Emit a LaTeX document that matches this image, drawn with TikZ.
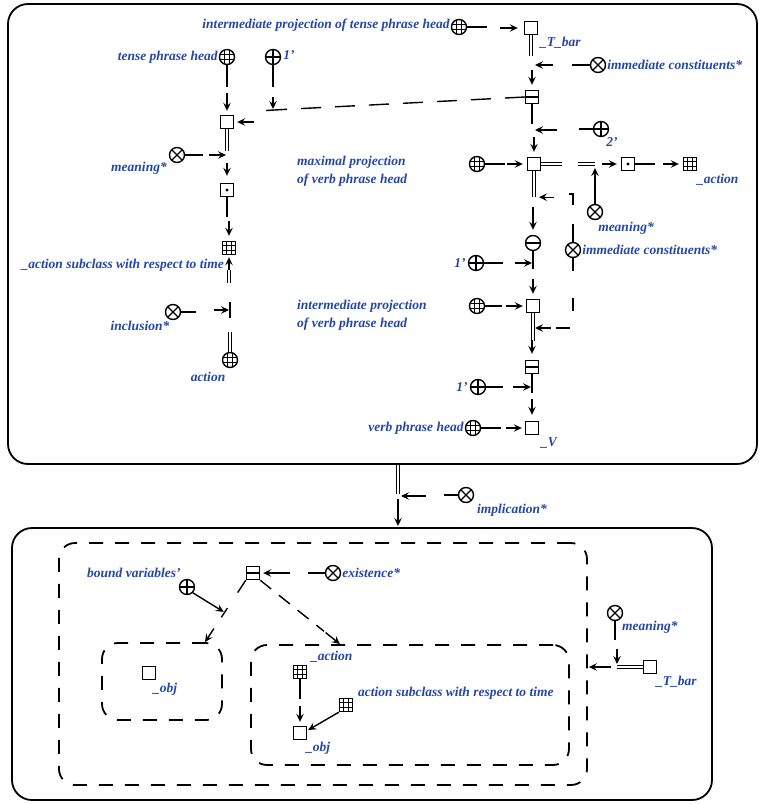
\documentclass[tikz,border=0pt]{standalone}
\usepackage{fontspec}
\setmainfont{Liberation Serif}
\usetikzlibrary{arrows.meta,calc}
\definecolor{lbl}{RGB}{35,70,170}
\tikzset{
  lab/.style={text=lbl, inner sep=0pt, font=\fontsize{13.5}{17.5}\selectfont\bfseries\itshape},
  ln/.style={line width=1.4pt},
  dbl/.style={double, double distance=2pt, line width=0.7pt},
  arw/.style={line width=1.4pt, -{Stealth[length=8pt,width=7.5pt,inset=3pt]}},
  frame/.style={line width=1.8pt, rounded corners=20pt},
  dbox/.style={draw, line width=1.8pt, dash pattern=on 14pt off 12pt, rounded corners=16pt, inner sep=0pt},
  sq/.style={draw, line width=1.4pt, minimum size=13pt, inner sep=0pt},
  cc/.style={circle, draw, line width=1.4pt, minimum size=15pt, inner sep=0pt},
  gcirc/.style={cc, path picture={
    \draw[line width=0.9pt]
      ([xshift=-2.4pt]path picture bounding box.north) -- ([xshift=-2.4pt]path picture bounding box.south)
      ([xshift=2.4pt]path picture bounding box.north) -- ([xshift=2.4pt]path picture bounding box.south)
      ([yshift=-2.4pt]path picture bounding box.west) -- ([yshift=-2.4pt]path picture bounding box.east)
      ([yshift=2.4pt]path picture bounding box.west) -- ([yshift=2.4pt]path picture bounding box.east);}},
  pcirc/.style={cc, path picture={
    \draw[line width=1.2pt]
      (path picture bounding box.north) -- (path picture bounding box.south)
      (path picture bounding box.west) -- (path picture bounding box.east);}},
  xcirc/.style={cc, path picture={
    \draw[line width=1.2pt]
      (path picture bounding box.north west) -- (path picture bounding box.south east)
      (path picture bounding box.north east) -- (path picture bounding box.south west);}},
  mcirc/.style={cc, path picture={
    \draw[line width=1.2pt]
      (path picture bounding box.west) -- (path picture bounding box.east);}},
  gsq/.style={sq, path picture={
    \draw[line width=0.8pt]
      ([xshift=-2.2pt]path picture bounding box.north) -- ([xshift=-2.2pt]path picture bounding box.south)
      ([xshift=2.2pt]path picture bounding box.north) -- ([xshift=2.2pt]path picture bounding box.south)
      ([yshift=-2.2pt]path picture bounding box.west) -- ([yshift=-2.2pt]path picture bounding box.east)
      ([yshift=2.2pt]path picture bounding box.west) -- ([yshift=2.2pt]path picture bounding box.east);}},
  ssq/.style={sq, path picture={
    \draw[line width=1.2pt]
      (path picture bounding box.west) -- (path picture bounding box.east);}},
  dsq/.style={sq, path picture={
    \fill (path picture bounding box.center) circle (1.6pt);}},
}
\begin{document}
\begin{tikzpicture}[x=1pt,y=-1pt]
\useasboundingbox (0,0) rectangle (764,804);

% ---------- outer frames ----------
\draw[frame] (8,4) rectangle (757,464);
\draw[frame] (12,528) rectangle (712,800);

% ---------- tense phrase part (left column) ----------
\node[gcirc] (tph) at (227,57) {};
\node[pcirc] (p1) at (273,57) {};
\node[sq] (sqT) at (227,122) {};
\node[xcirc] (mn1) at (177,155) {};
\node[dsq] (dsq1) at (227,190) {};
\node[gsq] (gsq1) at (229,248) {};
\node[xcirc] (inc) at (173,312) {};
\node[gcirc] (actc) at (230,360) {};
\coordinate (jd1) at (273,110);
\coordinate (jmn1) at (227,155);
\coordinate (jinc) at (230,310);

\node[lab, anchor=east] (l-tph) at ([xshift=-1pt]tph.west) {tense phrase head};
\node[lab, anchor=west] (l-p1) at ([xshift=2pt,yshift=2pt]p1.east) {1'};
\node[lab] (l-mn1) at (139,168) {meaning*};
\node[lab, anchor=east] (l-gsq1) at (224,265) {\_action subclass with respect to time};
\node[lab] (l-inc) at (140,326) {inclusion*};
\node[lab] (l-actc) at (208,377) {action};

\draw[ln] (tph.south) -- ++(0,22);
\draw[arw] ($(sqT.north)+(0,-22)$) -- ($(sqT.north)+(0,-4)$);
\draw[ln] (p1.south) -- ++(0,22);
\draw[arw] ($(p1.south)+(0,32)$) -- ($(jd1)+(0,-1)$);
\draw[dbl] (sqT.south) -- ++(0,22);
\draw[ln] (mn1.east) -- ++(18,0);
\draw[arw] ($(jmn1)+(-18,0)$) -- ($(jmn1)+(-1,0)$);
\draw[arw] ($(dsq1.north)+(0,-20)$) -- ($(dsq1.north)+(0,-7)$);
\draw[ln] (dsq1.south) -- ++(0,20);
\draw[arw] ($(gsq1.north)+(0,-20)$) -- ($(gsq1.north)+(0,-5)$);
\draw[dbl] ($(gsq1.south)+(0,15)$) -- ($(gsq1.south)+(0,28)$);
\draw[arw] ($(gsq1.south)+(0,15)$) -- ($(gsq1.south)+(0,2)$);
\draw[ln] ($(jinc)+(0,-8)$) -- ($(jinc)+(0,8)$);
\draw[ln] (inc.east) -- ++(15,0);
\draw[arw] ($(jinc)+(-16,0)$) -- ($(jinc)+(-1,0)$);
\draw[dbl] (actc.north) -- ++(0,-20);

% ---------- verb phrase part (right column) ----------
\node[gcirc] (itph) at (459,27) {};
\node[sq] (sqTb) at (531,28) {};
\node[xcirc] (ic1) at (598,65) {};
\coordinate (jic1) at (533,65);
\node[ssq] (sp1) at (532,97) {};
\node[pcirc] (p2) at (601,129) {};
\coordinate (jp2) at (533,130);
\node[gcirc] (vpc) at (477,164) {};
\node[sq] (sqM) at (534,164) {};
\node[dsq] (dsq2) at (628,164) {};
\node[gsq] (gsq2) at (690,164) {};
\node[xcirc] (mn2) at (595,212) {};
\coordinate (jmn2) at (595,164);
\node[xcirc] (ic2) at (573,250) {};
\node[mcirc] (mc) at (533,243) {};
\node[pcirc] (p3) at (476,263) {};
\coordinate (jp3) at (533,263);
\node[sq] (sqI) at (533,306) {};
\node[gcirc] (vpc2) at (477,306) {};
\coordinate (jic2) at (533,328);
\node[ssq] (sp2) at (532,367) {};
\node[pcirc] (p4) at (478,387) {};
\coordinate (jp4) at (532,387);
\node[sq] (sqV) at (532,428) {};
\node[gcirc] (vhc) at (473,428) {};

\node[lab, anchor=east] (l-itph) at ([xshift=-1pt,yshift=2pt]itph.west) {intermediate projection of tense phrase head};
\node[lab, anchor=west] (l-sqTb) at (540,43) {\_T\_bar};
\node[lab, anchor=west] (l-ic1) at ([xshift=1pt]ic1.east) {immediate constituents*};
\node[lab] (l-p2) at (612,142) {2'};
\node[lab, anchor=west, align=left] (l-max) at (297,171) {maximal projection\\of verb phrase head};
\node[lab, anchor=west] (l-gsq2) at (697,180) {\_action};
\node[lab] (l-mn2) at (626,228) {meaning*};
\node[lab, anchor=west] (l-ic2) at ([xshift=1pt]ic2.east) {immediate constituents*};
\node[lab, anchor=east] (l-p3) at ([xshift=-2pt]p3.west) {1'};
\node[lab, anchor=west, align=left] (l-int) at (297,315) {intermediate projection\\of verb phrase head};
\node[lab, anchor=east] (l-p4) at ([xshift=-2pt]p4.west) {1'};
\node[lab, anchor=east] (l-vhc) at ([xshift=-1pt]vhc.west) {verb phrase head};
\node[lab] (l-sqV) at (549,443) {\_V};

\draw[ln] (itph.east) -- ++(20,0);
\draw[arw] ($(sqTb.west)+(-24,0)$) -- ($(sqTb.west)+(-6,0)$);
\draw[dbl] (sqTb.south) -- ++(0,21);
\draw[ln] (ic1.west) -- ++(-18,0);
\draw[arw] ($(jic1)+(20,0)$) -- ($(jic1)+(2,0)$);
\draw[arw] ($(sp1.north)+(0,-20)$) -- ($(sp1.north)+(0,-5)$);
% dashed link from the split box to the tense phrase square
\draw[ln, dash pattern=on 20pt off 14pt] (sp1.west) -- ($(jd1)+(10,-0.5)$);
\draw[ln] ($(jd1)+(10,-0.5)$) -- ($(jd1)+(-7,0.5)$);
\draw[arw] ($(sqT.east)+(20,0)$) -- ($(sqT.east)+(3,0)$);
\draw[ln] (sp1.south) -- ++(0,20);
\draw[ln] (p2.west) -- ++(-14,0);
\draw[arw] ($(jp2)+(24,0)$) -- ($(jp2)+(2,0)$);
\draw[arw] ($(sqM.north)+(0,-20)$) -- ($(sqM.north)+(0,-5)$);
\draw[ln] (vpc.east) -- ++(20,0);
\draw[arw] ($(sqM.west)+(-20,0)$) -- ($(sqM.west)+(-4,0)$);
\draw[dbl] (sqM.east) -- ++(21,0);
\draw[dbl] ($(jmn2)+(-17,0)$) -- (jmn2);
\draw[arw] ($(dsq2.west)+(-19,0)$) -- ($(dsq2.west)+(-4,0)$);
\draw[ln] (mn2.north) -- ++(0,-16);
\draw[arw] ($(jmn2)+(0,24)$) -- ($(jmn2)+(0,4)$);
\draw[ln] (dsq2.east) -- ++(20,0);
\draw[arw] ($(gsq2.west)+(-20,0)$) -- ($(gsq2.west)+(-4,0)$);
\draw[dbl] (sqM.south) -- ++(0,26);
\draw[ln] (ic2.north) -- ++(0,-18);
\draw[ln] ($(ic2.north)+(0,-37)$) -- ($(ic2.north)+(0,-48)$) -- ++(-4,0);
\draw[arw] ($(sqM.south)+(20,26)$) -- ($(sqM.south)+(5,26)$);
\draw[arw] ($(mc.north)+(0,-28)$) -- ($(mc.north)+(0,-5)$);
\draw[ln] (mc.south) -- ($(jp3)+(0,6)$);
\draw[ln] (p3.east) -- ++(19,0);
\draw[arw] ($(jp3)+(-18,0)$) -- ($(jp3)+(-1,0)$);
\draw[arw] ($(sqI.north)+(0,-20)$) -- ($(sqI.north)+(0,-5)$);
\draw[ln] (vpc2.east) -- ++(17,0);
\draw[arw] ($(sqI.west)+(-20,0)$) -- ($(sqI.west)+(-3,0)$);
\draw[dbl] (sqI.south) -- ++(0,28);
\draw[ln] (ic2.south) -- ++(0,13);
\draw[ln] ($(ic2.south)+(0,40)$) -- ++(0,13);
\draw[ln] ($(jic2)+(37,0)$) -- ($(jic2)+(23,0)$);
\draw[arw] ($(jic2)+(18,0)$) -- ($(jic2)+(2,0)$);
\draw[arw] ($(sp2.north)+(0,-20)$) -- ($(sp2.north)+(0,-6)$);
\draw[ln] (sp2.south) -- ($(jp4)+(0,6)$);
\draw[ln] (p4.east) -- ++(17,0);
\draw[arw] ($(jp4)+(-19,0)$) -- ($(jp4)+(-1,0)$);
\draw[arw] ($(sqV.north)+(0,-22)$) -- ($(sqV.north)+(0,-6)$);
\draw[ln] (vhc.east) -- ++(20,0);
\draw[arw] ($(sqV.west)+(-19,0)$) -- ($(sqV.west)+(-3,0)$);

% ---------- implication between the two frames ----------
\coordinate (ta) at (398,465);
\coordinate (jimp) at (398,496);
\coordinate (tb) at (398,527);
\node[xcirc] (imp) at (466,495) {};
\node[lab, anchor=west] (l-imp) at (477,510) {implication*};
\draw[dbl] (ta) -- ($(jimp)+(0,-2)$);
\draw[ln] (imp.west) -- ++(-14,0);
\draw[arw] ($(jimp)+(28,0)$) -- ($(jimp)+(3,0)$);
\draw[arw, shorten >=1pt] ($(jimp)+(0,3)$) -- (tb);

% ---------- consequent ----------
\node[dbox, minimum width=528, minimum height=242] (outer) at (323,664) {};
\node[dbox, minimum width=120, minimum height=77] (objb) at (162,681.5) {};
\node[dbox, minimum width=318, minimum height=120] (actb) at (410,705) {};

\node[ssq] (sb) at (253,573) {};
\node[xcirc] (ex) at (333,573) {};
\node[pcirc] (bv) at (187,587) {};
\node[sq] (ob1) at (149,673) {};
\node[gsq] (ga) at (300,672) {};
\node[sq] (ob2) at (300,733) {};
\node[gsq] (gs) at (346,705) {};
\node[xcirc] (mb) at (615,613) {};
\node[sq] (tb2) at (650,667) {};
\coordinate (jmb) at (617,667);
\coordinate (objt) at ($(objb.north)+(43,0)$);
\coordinate (actt) at ($(actb.north)+(-70,0)$);

\node[lab, anchor=west] (l-bv) at (87,573) {bound variables'};
\node[lab, anchor=west] (l-ex) at ([xshift=1pt]ex.east) {existence*};
\node[lab, anchor=west] (l-ob1) at (153,689) {\_obj};
\node[lab, anchor=west] (l-ga) at (311,657) {\_action};
\node[lab, anchor=west] (l-gs) at (358,693) {action subclass with respect to time};
\node[lab, anchor=west] (l-ob2) at (306,748) {\_obj};
\node[lab, anchor=west] (l-mb) at (622,627) {meaning*};
\node[lab, anchor=west] (l-tb2) at (656,682) {\_T\_bar};

\draw[ln] (ex.west) -- ++(-17,0);
\draw[arw] ($(sb.east)+(30,0)$) -- ($(sb.east)+(3,0)$);
\draw[ln] (sb.south west) -- ($(sb.south west)!0.2!(objt)$);
\draw[ln] ($(sb.south west)!0.45!(objt)$) -- ($(sb.south west)!0.6!(objt)$);
\draw[arw] ($(sb.south west)!0.78!(objt)$) -- (objt);
\draw[arw, shorten >=1pt] (bv.south east) -- ($(sb.south west)!0.52!(objt)$);
\draw[ln, dash pattern=on 14pt off 10pt] (sb.south east) -- ($(sb.south east)!0.8!(actt)$);
\draw[arw] ($(sb.south east)!0.82!(actt)$) -- (actt);
\draw[ln] (ga.south) -- ++(0,20);
\draw[arw] ($(ob2.north)+(0,-20)$) -- ($(ob2.north)+(0,-4)$);
\draw[arw] (gs.south west) -- ($(ob2.east)+(1,-3)$);
\draw[ln] (mb.south) -- ++(0,19);
\draw[arw] ($(jmb)+(0,-18)$) -- ($(jmb)+(0,-3)$);
\draw[dbl] (tb2.west) -- (jmb);
\draw[arw, shorten >=1pt] ($(jmb)+(-6,0)$) -- (outer.east |- jmb);
\end{tikzpicture}
\end{document}
